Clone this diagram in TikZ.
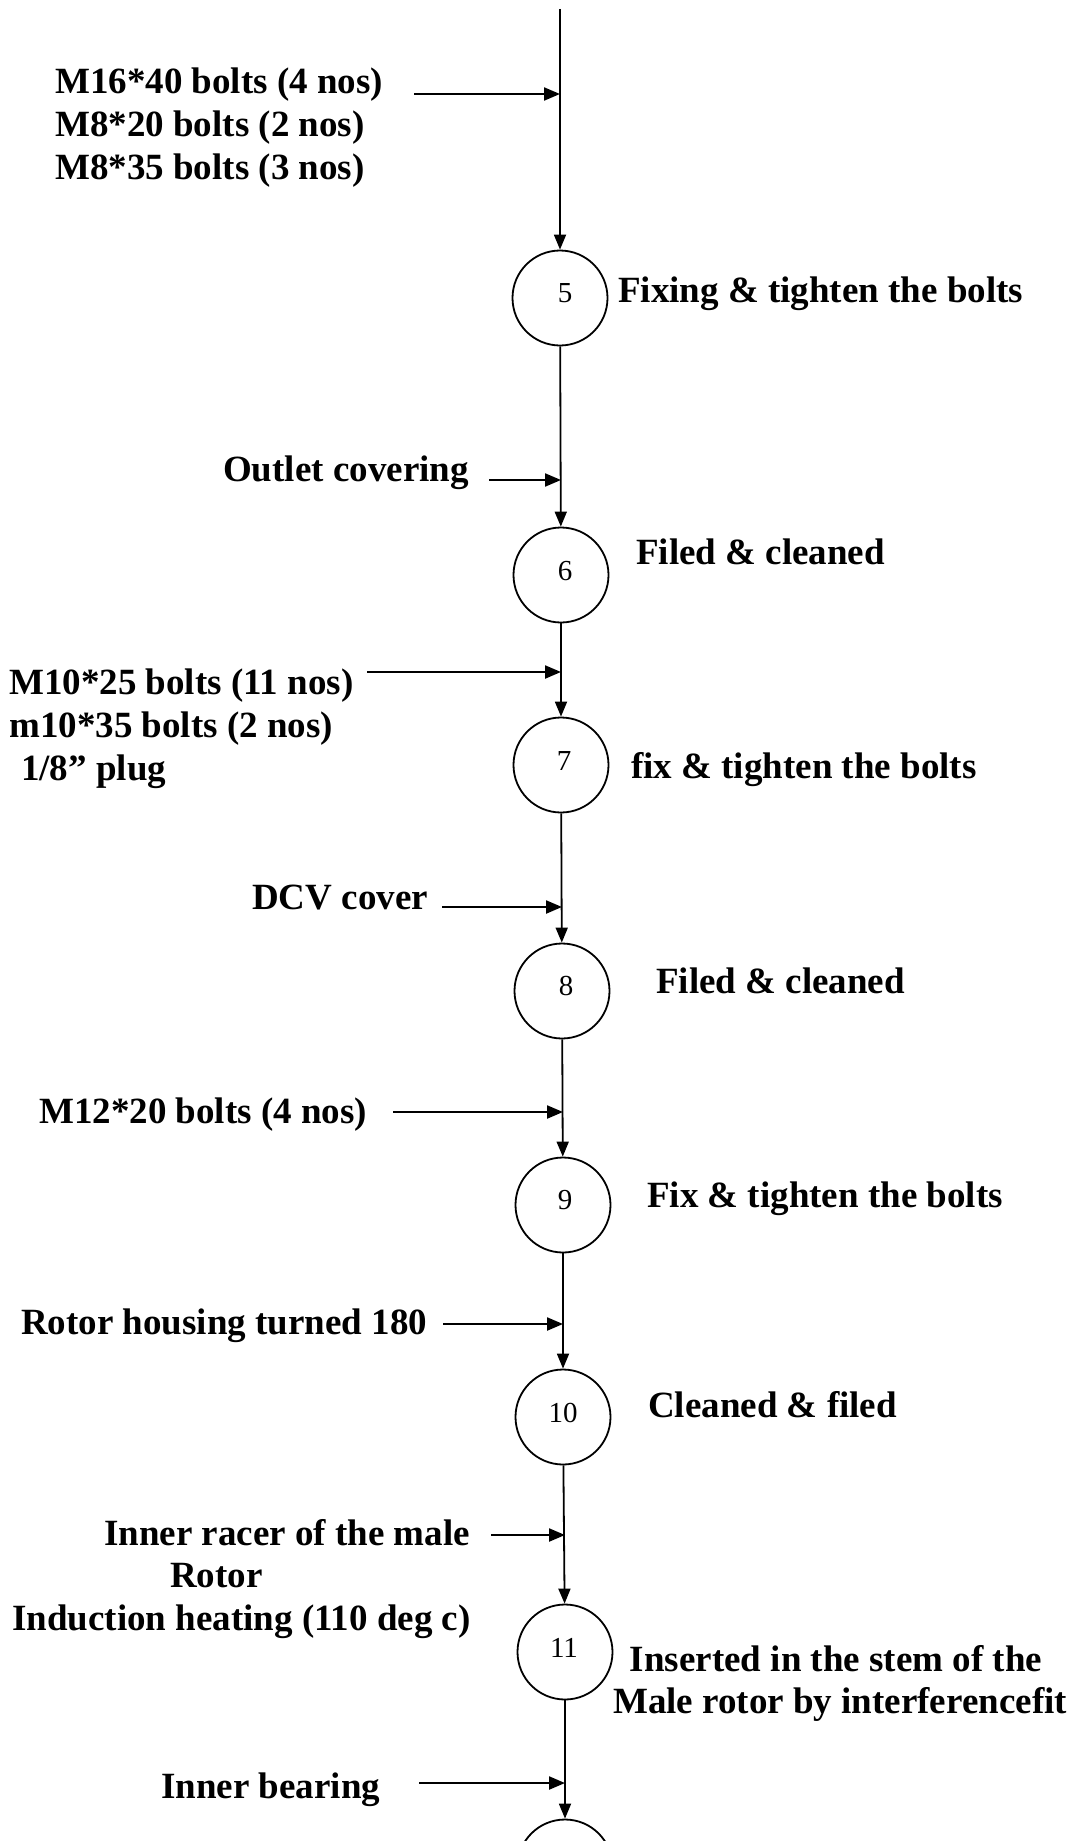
\documentclass[tikz,border=0pt]{standalone}
\usepackage{fontspec}
\setmainfont{Liberation Serif}
\usetikzlibrary{arrows.meta}
\begin{document}
\begin{tikzpicture}[x=1pt,y=-1pt,
  stn/.style={circle,draw,line width=1.8pt,minimum size=95pt,inner sep=0pt},
  num/.style={font=\fontsize{29}{34}\selectfont,inner sep=0pt},
  lbl/.style={font=\fontsize{37}{42}\selectfont\bfseries,inner sep=0pt,anchor=base west},
  flow/.style={line width=1.8pt,-{Triangle[length=15pt,width=12pt]}},
  feed/.style={line width=2.2pt,-{Triangle[length=16pt,width=13pt]}}]
\useasboundingbox (0,0) rectangle (1086,1841);
\clip (0,0) rectangle (1086,1841);
\fill[white] (0,0) rectangle (1086,1841);

% stations
\coordinate (top) at (560,9);
\node[stn] (c5) at (560,298) {};
\node[stn] (c6) at (561,575) {};
\node[stn] (c7) at (561,765) {};
\node[stn] (c8) at (562,991) {};
\node[stn] (c9) at (563,1205) {};
\node[stn] (c10) at (563,1417) {};
\node[stn] (c11) at (565,1652) {};
\node[stn] (c12) at (565,1867) {};

\node[num] (n5) at (565,293) {5};
\node[num] (n6) at (565,571) {6};
\node[num] (n7) at (564,761) {7};
\node[num] (n8) at (566,986) {8};
\node[num] (n9) at (565,1200) {9};
\node[num] (n10) at (563,1413) {10};
\node[num] (n11) at (564,1648) {11};

% main flow
\draw[flow] (top) -- (c5);
\draw[flow] (c5) -- (c6);
\draw[flow] (c6) -- (c7);
\draw[flow] (c7) -- (c8);
\draw[flow] (c8) -- (c9);
\draw[flow] (c9) -- (c10);
\draw[flow] (c10) -- (c11);
\draw[flow] (c11) -- (c12);

% feed arrows
\coordinate (f5) at (414,94);
\coordinate (f6) at (489,480);
\coordinate (f7) at (367,672);
\coordinate (f8) at (442,907);
\coordinate (f9) at (393,1112);
\coordinate (f10) at (443,1324);
\coordinate (f11) at (491,1535);
\coordinate (f12) at (419,1783);
\draw[feed] (f5) -- (f5 -| c5);
\draw[feed] (f6) -- (f6 -| c6);
\draw[feed] (f7) -- (f7 -| c7);
\draw[feed] (f8) -- (f8 -| c8);
\draw[feed] (f9) -- (f9 -| c9);
\draw[feed] (f10) -- (f10 -| c10);
\draw[feed] (f11) -- (f11 -| c11);
\draw[feed] (f12) -- (f12 -| c12);

% left texts
\node[lbl] (a5a) at (55,94) {M16*40 bolts (4 nos)};
\node[lbl] (a5b) at (55,136) {M8*20 bolts (2 nos)};
\node[lbl] (a5c) at (55,179) {M8*35 bolts (3 nos)};
\node[lbl] (a6) at (223,481) {Outlet covering};
\node[lbl] (a7a) at (9,694) {M10*25 bolts (11 nos)};
\node[lbl] (a7b) at (9,737) {m10*35 bolts (2 nos)};
\node[lbl] (a7c) at (21,780) {1/8” plug};
\node[lbl] (a8) at (252,909) {DCV cover};
\node[lbl] (a9) at (39,1123) {M12*20 bolts (4 nos)};
\node[lbl] (a10) at (21,1334) {Rotor housing turned 180};
\node[lbl] (a11a) at (104,1545) {Inner racer of the male};
\node[lbl] (a11b) at (170,1587) {Rotor};
\node[lbl] (a11c) at (12,1630) {Induction heating (110 deg c)};
\node[lbl] (a12) at (161,1798) {Inner bearing};

% right texts
\node[lbl] (b5) at (618,302) {Fixing \& tighten the bolts};
\node[lbl] (b6) at (636,564) {Filed \& cleaned};
\node[lbl] (b7) at (631,778) {fix \& tighten the bolts};
\node[lbl] (b8) at (656,993) {Filed \& cleaned};
\node[lbl] (b9) at (647,1207) {Fix \& tighten the bolts};
\node[lbl] (b10) at (648,1417) {Cleaned \& filed};
\node[lbl,anchor=base] (b11a) at (836,1671) {Inserted in the stem of the};
\node[lbl,anchor=base] (b11b) at (840,1713) {Male rotor by interferencefit};
\end{tikzpicture}
\end{document}
